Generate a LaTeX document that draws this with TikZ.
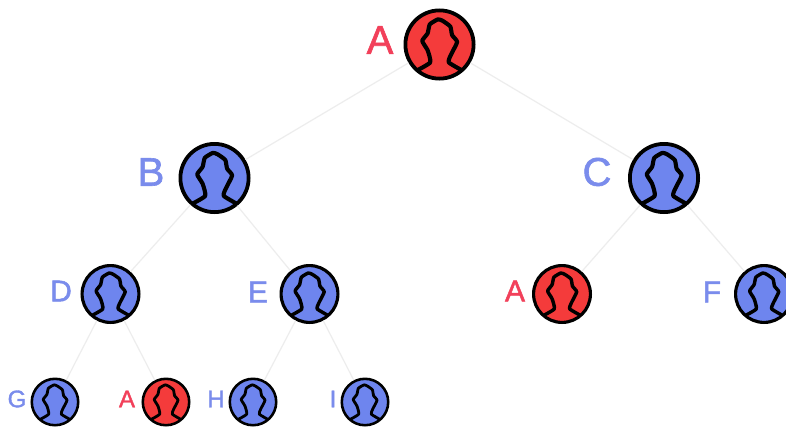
\documentclass[tikz,border=0pt]{standalone}
\usepackage{fontspec}
\setmainfont[FakeBold=1.5]{Liberation Sans}
\definecolor{redfill}{HTML}{F43B3B}
\definecolor{bluefill}{HTML}{6E85EE}
\definecolor{redtext}{HTML}{F2405A}
\definecolor{bluetext}{HTML}{7A8CEC}
\definecolor{edgegray}{HTML}{EDEDED}
\tikzset{
  x=1pt,y=-1pt,
  edgeline/.style={draw=edgegray,line width=1.2pt},
  lab/.style={inner sep=0pt,anchor=center},
  big/.style={font=\fontsize{40}{40}\selectfont},
  mid/.style={font=\fontsize{30}{30}\selectfont},
  small/.style={font=\fontsize{24}{24}\selectfont},
}
\newcommand{\personnode}[5]{%
  % name, x, y, radius, fill
  \node[circle,draw=black,fill=#5,line width=#4*0.105pt,minimum size=#4*2pt-#4*0.105pt,inner sep=0pt,
    path picture={
      \begin{scope}[shift={(path picture bounding box.center)},x=#4pt,y=-#4pt]
      \draw[line width=#4*0.115pt,line join=round,line cap=round]
        plot[smooth,tension=.3] coordinates {(-.7,.76) (-.26,.5) (-.33,.16) (-.48,-.1) (-.33,-.31)
        (-.27,-.56) (-.04,-.7) (.1,-.65) (.3,-.5) (.35,-.26) (.49,-.07) (.31,.3) (.26,.5) (.7,.76)};
      \end{scope}}] (#1) at (#2,#3) {};%
}
\begin{document}
\begin{tikzpicture}
\useasboundingbox (0,0) rectangle (786,426);
\clip (0,0) rectangle (786,426);
\fill[white] (0,0) rectangle (786,426);
\personnode{a}{439.5}{44.5}{36}{redfill}
\personnode{b}{214.5}{178}{36}{bluefill}
\personnode{c}{664}{178}{36}{bluefill}
\personnode{d}{110.5}{294}{30}{bluefill}
\personnode{e}{309.5}{294}{30}{bluefill}
\personnode{a2}{562}{294}{30}{redfill}
\personnode{f}{764}{294}{30}{bluefill}
\personnode{g}{55}{402}{24.5}{bluefill}
\personnode{a3}{166}{402}{24.5}{redfill}
\personnode{h}{253}{402}{24.5}{bluefill}
\personnode{i}{365}{402}{24.5}{bluefill}
\draw[edgeline] (a)--(b);
\draw[edgeline] (a)--(c);
\draw[edgeline] (b)--(d);
\draw[edgeline] (b)--(e);
\draw[edgeline] (c)--(a2);
\draw[edgeline] (c)--(f);
\draw[edgeline] (d)--(g);
\draw[edgeline] (d)--(a3);
\draw[edgeline] (e)--(h);
\draw[edgeline] (e)--(i);
\node[lab,big,text=redtext] (la) at (380,40) {A};
\node[lab,big,text=bluetext] (lb) at (151,172) {B};
\node[lab,big,text=bluetext] (lc) at (597,172) {C};
\node[lab,mid,text=bluetext] (ld) at (61,291) {D};
\node[lab,mid,text=bluetext] (le) at (258,292) {E};
\node[lab,mid,text=redtext] (la2) at (515,291) {A};
\node[lab,mid,text=bluetext] (lf) at (712,292) {F};
\node[lab,small,text=bluetext] (lg) at (17,399) {G};
\node[lab,small,text=redtext] (la3) at (127,399) {A};
\node[lab,small,text=bluetext] (lh) at (216,399) {H};
\node[lab,small,text=bluetext] (li) at (333,399) {I};
\end{tikzpicture}
\end{document}
